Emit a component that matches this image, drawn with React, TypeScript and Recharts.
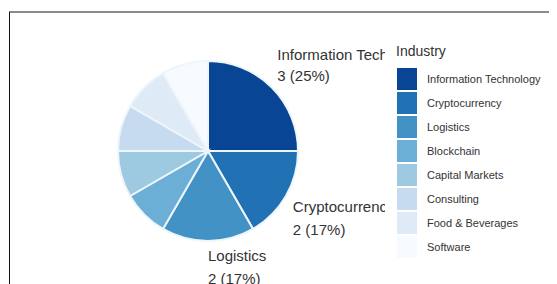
import { PieChart, Pie, Cell } from "recharts"

const industries = [
  "Information Technology",
  "Cryptocurrency",
  "Logistics",
  "Blockchain",
  "Capital Markets",
  "Consulting",
  "Food & Beverages",
  "Software",
]
const counts = [3, 2, 2, 1, 1, 1, 1, 1]
const COLORS = ["#084594", "#2171b5", "#4292c6", "#6baed6", "#9ecae1", "#c6dbef", "#deebf7", "#f7fbff"]

const data = industries.map((name, i) => ({ name, value: counts[i] }))

const RAD = Math.PI / 180
const FONT = "'Liberation Sans', Arial, sans-serif"

const renderLabel = (props: any) => {
  const { cx, cy, midAngle, value, percent, name, index } = props
  if (value < 2) return null
  const r = 98
  const x = cx + r * Math.cos(-midAngle * RAD)
  const y = cy + r * Math.sin(-midAngle * RAD)
  const above = y < cy - 5
  const y1 = above ? y - 22 : y + 12
  const y2 = above ? y - 1 : y + 35
  const id = `lbl-clip-${index}`
  return (
    <g>
      <defs>
        <clipPath id={id}>
          <rect x={0} y={0} width={377} height={276} />
        </clipPath>
      </defs>
      <g clipPath={`url(#${id})`} fontFamily={FONT} fontSize={15} fill="#333">
        <text x={x} y={y1} textAnchor="start">{name}</text>
        <text x={x} y={y2} textAnchor="start">{`${value} (${Math.round(percent * 100)}%)`}</text>
      </g>
    </g>
  )
}

function IndustryLegend() {
  return (
    <div style={{ position: "absolute", left: 388, top: 35, width: 160, fontFamily: FONT, color: "#333" }}>
      <div style={{ fontSize: 14, lineHeight: "16px", marginBottom: 8 }}>Industry</div>
      {industries.map((name, i) => (
        <div key={`leg-${i}`} style={{ display: "flex", alignItems: "center", height: 24 }}>
          <div style={{ width: 20, height: 22.5, background: COLORS[i], marginLeft: 1 }} />
          <span style={{ fontSize: 11, marginLeft: 10 }}>{name}</span>
        </div>
      ))}
    </div>
  )
}

export default function App() {
  return (
    <div style={{ position: "relative", width: 549, height: 276 }}>
      <div
        style={{
          position: "absolute",
          left: 1,
          top: 3,
          width: 548,
          height: 273,
          borderTop: "2px solid #8a8a8a",
          borderLeft: "1px solid #111",
          boxSizing: "border-box",
        }}
      />
      <div style={{ position: "absolute", left: 0, top: 0 }}>
        <PieChart width={549} height={276} margin={{ top: 0, right: 0, bottom: 0, left: 0 }}>
          <Pie
            data={data}
            dataKey="value"
            nameKey="name"
            cx={200}
            cy={143}
            outerRadius={90}
            startAngle={90}
            endAngle={-270}
            stroke="#eef5fb"
            strokeWidth={2}
            label={renderLabel}
            labelLine={false}
            isAnimationActive={false}
          >
            {data.map((entry, index) => (
              <Cell key={`cell-${index}`} fill={COLORS[index % COLORS.length]} />
            ))}
          </Pie>
        </PieChart>
      </div>
      <IndustryLegend />
    </div>
  )
}
